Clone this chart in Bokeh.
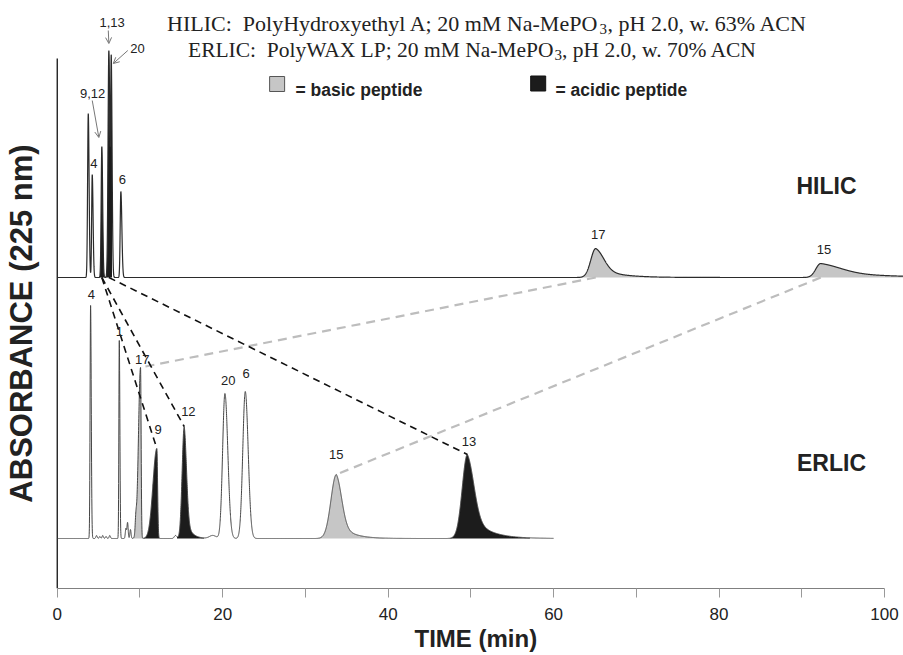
import numpy as np
from bokeh.plotting import figure
from bokeh.models import Range1d, FixedTicker, Label, Arrow, OpenHead, ColumnDataSource, Title
from bokeh.embed import file_html
from bokeh.resources import INLINE
from bokeh.core.properties import value

# ---------------- peak tables (retention time in min, height in mAU) ----------------
# HILIC: PolyHydroxyethyl A
hilic_labels = ["", "4", "9,12", "1,13", "20", "6", "17", "15"]
hilic_rt = [3.75, 4.23, 5.39, 6.24, 6.53, 7.69, 65.1, 92.3]
hilic_height = [164, 103, 131, 227, 210, 86, 29, 14]
hilic_sigma_lead = [0.08, 0.07, 0.08, 0.10, 0.07, 0.08, 0.60, 0.60]
hilic_sigma_tail = [0.10, 0.10, 0.10, 0.12, 0.10, 0.12, 1.00, 2.50]
hilic_tail_frac = [0, 0, 0, 0, 0, 0, 0.35, 0.50]
hilic_tail_tau = [1, 1, 1, 1, 1, 1, 2.5, 6.0]
hilic_kind = ["", "", "acidic", "acidic", "", "", "basic", "basic"]

# ERLIC: PolyWAX LP
erlic_labels = ["4", "1", "17", "9", "12", "20", "6", "15", "13"]
erlic_rt = [4.03, 7.50, 10.07, 12.04, 15.35, 20.27, 22.73, 33.74, 49.58]
erlic_height = [233, 198, 171, 90, 112, 145, 147, 64, 84]
erlic_sigma_lead = [0.06, 0.05, 0.25, 0.47, 0.25, 0.28, 0.30, 0.65, 0.62]
erlic_sigma_tail = [0.08, 0.07, 0.07, 0.09, 0.28, 0.35, 0.35, 0.65, 0.80]
erlic_tail_frac = [0, 0, 0, 0, 0.25, 0, 0, 0.30, 0.35]
erlic_tail_tau = [1, 1, 1, 1, 0.6, 1, 1, 1.5, 2.0]
erlic_kind = ["", "", "basic", "acidic", "acidic", "", "", "basic", "acidic"]

# small unassigned ERLIC peaks
erlic_minor_rt = [4.75, 5.15, 5.50, 5.90, 6.35, 8.30, 8.50, 8.85, 9.50, 14.30, 18.80]
erlic_minor_height = [3, 2, 3, 2, 3, 10, 16, 9, 14, 3, 3]
erlic_minor_sigma = [0.08, 0.08, 0.08, 0.08, 0.08, 0.07, 0.07, 0.07, 0.08, 0.15, 0.40]

# peptides followed from HILIC to ERLIC
link_peptide = ["9", "12", "13", "17", "15"]
link_hilic_peak = ["9,12", "9,12", "1,13", "17", "15"]
link_kind = ["acidic", "acidic", "acidic", "basic", "basic"]

x_ticks = [0, 20, 40, 60, 80, 100]
x_minor_ticks = [10, 30, 50, 70, 90]

# ---------------- layout / style ----------------
HILIC_OFFSET = 311
ERLIC_OFFSET = 50
Y_AXIS_TOP = 530
SANS = "Liberation Sans"
SERIF = "Liberation Serif"
FILL = {"acidic": "#1c1c1c", "basic": "#c6c6c6"}
INK = "#222222"
NB = "\u00a0"


def peak_shape(t, rt, h, s_lead, s_tail, tail_frac, tail_tau):
    dt = t - rt
    lead = np.exp(-0.5 * (dt / s_lead) ** 2)
    dtp = np.clip(dt, 0, None)
    tail = (1 - tail_frac) * np.exp(-0.5 * (dtp / s_tail) ** 2) + tail_frac * np.exp(-dtp / tail_tau)
    return h * np.where(dt < 0, lead, tail)


def chromatogram(t, rts, hs, sl, sr, tf, tau):
    y = np.zeros_like(t)
    for args in zip(rts, hs, sl, sr, tf, tau):
        y += peak_shape(t, *args)
    return y


t_h = np.arange(0, 102.31, 0.01)
y_h = chromatogram(t_h, hilic_rt, hilic_height, hilic_sigma_lead, hilic_sigma_tail,
                   hilic_tail_frac, hilic_tail_tau)

t_e = np.arange(0, 60.001, 0.01)
y_e = chromatogram(t_e, erlic_rt, erlic_height, erlic_sigma_lead, erlic_sigma_tail,
                   erlic_tail_frac, erlic_tail_tau)
y_e += chromatogram(t_e, erlic_minor_rt, erlic_minor_height, erlic_minor_sigma,
                    erlic_minor_sigma, [0] * len(erlic_minor_rt), [1] * len(erlic_minor_rt))

# the plotting frame spans the whole canvas width; time 0 sits 57 px from the left edge
p = figure(width=903, height=655, output_backend="svg", toolbar_location=None,
           x_range=Range1d(-6.86, 102.3), y_range=Range1d(0, 588),
           min_border_left=0, min_border_right=0, min_border_top=0, min_border_bottom=67)
p.outline_line_color = None
p.xgrid.visible = False
p.ygrid.visible = False
p.yaxis.visible = False
p.background_fill_color = "white"
p.border_fill_color = "white"

# absorbance axis line (no ticks) at time zero
p.segment(x0=[0], y0=[0], x1=[0], y1=[Y_AXIS_TOP], line_color="#111111", line_width=1.3)


def fill_peaks(t, y, offset, rts, sl, sr, tf, tau, kinds):
    for rt, a, b, f, ta, k in zip(rts, sl, sr, tf, tau, kinds):
        if not k:
            continue
        start = rt - 3.5 * a
        end = rt + 3.2 * b + (2.5 * ta if f > 0 else 0)
        m = (t >= start) & (t <= end)
        p.varea(x=t[m], y1=np.full(m.sum(), offset), y2=offset + y[m],
                fill_color=FILL[k], fill_alpha=1)


fill_peaks(t_h, y_h, HILIC_OFFSET, hilic_rt, hilic_sigma_lead, hilic_sigma_tail,
           hilic_tail_frac, hilic_tail_tau, hilic_kind)
fill_peaks(t_e, y_e, ERLIC_OFFSET, erlic_rt, erlic_sigma_lead, erlic_sigma_tail,
           erlic_tail_frac, erlic_tail_tau, erlic_kind)

p.line(t_h, HILIC_OFFSET + y_h, line_color="#2b2b2b", line_width=1.2)
p.line(t_e, ERLIC_OFFSET + y_e, line_color="#454545", line_width=1.0)

# connecting dashed lines: HILIC position -> ERLIC apex
links = {"acidic": dict(x0=[], y0=[], x1=[], y1=[]), "basic": dict(x0=[], y0=[], x1=[], y1=[])}
for pep, hp, k in zip(link_peptide, link_hilic_peak, link_kind):
    i = hilic_labels.index(hp)
    j = erlic_labels.index(pep)
    links[k]["x0"].append(hilic_rt[i])
    links[k]["y0"].append(HILIC_OFFSET)
    links[k]["x1"].append(erlic_rt[j])
    links[k]["y1"].append(ERLIC_OFFSET + erlic_height[j])
p.segment("x0", "y0", "x1", "y1", source=ColumnDataSource(links["basic"]),
          line_color="#bdbdbd", line_width=2.2, line_dash="9 6")
p.segment("x0", "y0", "x1", "y1", source=ColumnDataSource(links["acidic"]),
          line_color="#111111", line_width=1.6, line_dash="7 5")

# peak numbers
erlic_label_offset = {"4": (0.1, 11), "1": (0.0, 9), "17": (0.2, 8), "9": (0.15, 19),
                      "12": (0.5, 15), "20": (0.4, 13), "6": (0.1, 18), "15": (0.0, 20),
                      "13": (0.2, 13)}
hilic_label_offset = {"4": (0.2, 11), "6": (0.17, 12), "17": (0.3, 14), "15": (0.4, 14)}

lx, ly, lt = [], [], []
for lab, rt, h in zip(erlic_labels, erlic_rt, erlic_height):
    dx, dy = erlic_label_offset[lab]
    lx.append(rt + dx); ly.append(ERLIC_OFFSET + h + dy); lt.append(lab)
for lab, rt, h in zip(hilic_labels, hilic_rt, hilic_height):
    if lab in hilic_label_offset:
        dx, dy = hilic_label_offset[lab]
        lx.append(rt + dx); ly.append(HILIC_OFFSET + h + dy); lt.append(lab)

# crowded HILIC peaks get an arrow
arrow_spec = {"1,13": dict(end=(0.0, 7), start=(-0.07, 20), text=(0.39, 28)),
              "20": dict(end=(0.24, 4), start=(2.0, 17), text=(3.18, 19.5)),
              "9,12": dict(end=(-0.36, 9), start=(-1.16, 46), text=(-1.12, 53.5))}
for lab, spec in arrow_spec.items():
    i = hilic_labels.index(lab)
    rt, top = hilic_rt[i], HILIC_OFFSET + hilic_height[i]
    p.add_layout(Arrow(x_start=rt + spec["start"][0], y_start=top + spec["start"][1],
                       x_end=rt + spec["end"][0], y_end=top + spec["end"][1],
                       line_color="#777777", line_width=1,
                       end=OpenHead(size=6, line_color="#777777", line_width=1)))
    lx.append(rt + spec["text"][0]); ly.append(top + spec["text"][1]); lt.append(lab)

p.text(x=lx, y=ly, text=lt, text_font=value(SANS), text_font_size="13px",
       text_color=INK, text_align="center", text_baseline="middle")

# legend swatches
p.scatter(x=[26.58], y=[504.5], marker="square", size=15, fill_color=FILL["basic"],
          line_color="#555555", line_width=1)
p.scatter(x=[58.14], y=[505], marker="square", size=15, fill_color=FILL["acidic"],
          line_color="#111111", line_width=1)


def label(x, y, text, size, font=SANS, style="normal", align="left", baseline="alphabetic", angle=0):
    p.add_layout(Label(x=x, y=y, x_units="screen", y_units="screen", text=text,
                       text_font=font, text_font_size=size, text_font_style=style,
                       text_color=INK, text_align=align, text_baseline=baseline, angle=angle))


label(295, 499, "= basic peptide", "17.5px", style="bold")
label(555, 499, "= acidic peptide", "17.5px", style="bold")

# column descriptions (MePO3 with a lowered subscript)
label(598, 565, "HILIC:" + NB * 2 + "PolyHydroxyethyl A; 20 mM Na-MePO", "22px", font=SERIF, align="right")
label(599, 560, "3", "15px", font=SERIF)
label(607, 565, ", pH 2.0, w. 63% ACN", "22px", font=SERIF)
label(553, 539, "ERLIC:" + NB * 2 + "PolyWAX LP; 20 mM Na-MePO", "21.5px", font=SERIF, align="right")
label(554, 534, "3", "15px", font=SERIF)
label(561.5, 539, ", pH 2.0, w. 70% ACN", "21.5px", font=SERIF)

label(826, 403, "HILIC", "23px", style="bold", align="center", baseline="middle")
label(831, 126, "ERLIC", "23px", style="bold", align="center", baseline="middle")
label(21, 265, "ABSORBANCE (225 nm)", "31px", style="bold", align="center",
      baseline="middle", angle=np.pi / 2)

# time axis
xa = p.xaxis[0]
xa.ticker = FixedTicker(ticks=x_ticks, minor_ticks=x_minor_ticks)
xa.bounds = (0, 100)
xa.axis_line_color = "#808080"
xa.axis_line_width = 1
xa.major_tick_line_color = "#999999"
xa.minor_tick_line_color = "#999999"
xa.major_tick_in = 0
xa.major_tick_out = 9
xa.minor_tick_in = 0
xa.minor_tick_out = 9
xa.major_label_text_font = SANS
xa.major_label_text_font_size = "17px"
xa.major_label_text_color = INK
xa.major_label_standoff = 10

p.add_layout(Title(text="TIME (min)", align="left", offset=414, standoff=0,
                   text_font=SANS, text_font_size="24px", text_font_style="bold",
                   text_color=INK), "below")

open("out.html", "w").write(file_html(p, INLINE))
